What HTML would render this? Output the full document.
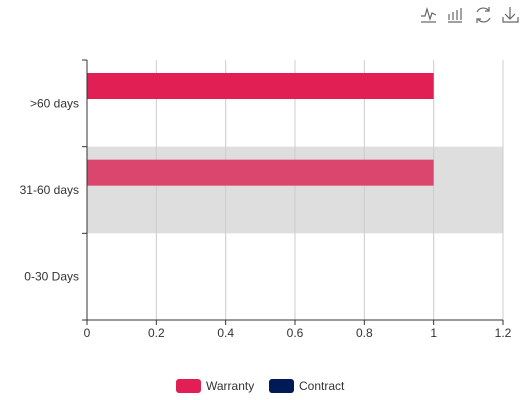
<!DOCTYPE html>
<html><head><meta charset="utf-8"><style>
body{margin:0;background:#fff;}
svg{display:block;font-family:"Liberation Sans",sans-serif;}
</style></head><body>
<svg id="chart" width="524" height="400">
<g fill="none" stroke="#666" stroke-width="1.2">
 <g><path d="M421 16 L425 16 L427 9 L430 19 L432 13 L436 15"/><path d="M421 22 L436 22"/></g>
 <g><path d="M449 14v6M453 12v8M457 10v10M461 8v12M448 22H462"/></g>
 <g><path d="M477 12 A7 7 0 0 1 489 11 M490 18 A7 7 0 0 1 478 19"/><path d="M489 7v4h-4M477 23v-4h4"/></g>
 <g><path d="M510 7v12M505 14l5 5 5-5M503 17v5h15v-5"/></g>
</g>
<g id="plot"></g>
<g font-size="12" fill="#333">
 <g><rect x="176" y="379" width="25" height="14" rx="3" fill="#e21f55"/><text x="206" y="390">Warranty</text></g>
 <g><rect x="269" y="379" width="25" height="14" rx="3" fill="#001a57"/><text x="299" y="390">Contract</text></g>
</g>
</svg>
<script>
const categories=['0-30 Days','31-60 days','>60 days'];
const warranty=[0,1,1];
const contract=[0,0,0];
const ticks=[0,0.2,0.4,0.6,0.8,1,1.2];
const X0=87,X1=503,Y0=320,Y1=60,NS='http://www.w3.org/2000/svg';
const xs=v=>X0+(v/1.2)*(X1-X0);
const band=(Y0-Y1)/categories.length;
const yb=i=>Y0-(i+1)*band;
const g=document.getElementById('plot');
function el(t,a,p){const e=document.createElementNS(NS,t);for(const k in a)e.setAttribute(k,a[k]);(p||g).appendChild(e);return e;}
// hover shadow on 31-60
let sh=el('rect',{x:X0,y:yb(1),width:X1-X0,height:band,fill:'#dedede'});


ticks.forEach(t=>{
 if(t>0){let l=el('line',{x1:xs(t),x2:xs(t),y1:Y1,y2:Y0,stroke:'#ccc'});
 
 }
 let k=el('line',{x1:xs(t),x2:xs(t),y1:Y0,y2:Y0+5,stroke:'#333'});
 
 
 let tx=el('text',{x:xs(t),y:Y0+17,'text-anchor':'middle','font-size':12,fill:'#333'});
 tx.textContent=t;
 
 
});
categories.forEach((c,i)=>{
 const bh=26,off=13;
 if(warranty[i]>0){let r=el('rect',{x:X0,y:yb(i)+off,width:xs(warranty[i])-X0,height:bh,fill:i==1?'#db466f':'#e21f55'});
 
 }
 if(contract[i]>0){let r=el('rect',{x:X0,y:yb(i)+off+bh+6,width:xs(contract[i])-X0,height:bh,fill:'#001a57'});
 
 }
 let tx=el('text',{x:X0-8,y:yb(i)+band/2+4,'text-anchor':'end','font-size':12,fill:'#333'});
 tx.textContent=c;
 
 
});
for(let i=0;i<=categories.length;i++){let k=el('line',{x1:X0-5,x2:X0,y1:Y1+i*band,y2:Y1+i*band,stroke:'#333'});

}
let ya=el('line',{x1:X0,x2:X0,y1:Y1,y2:Y0,stroke:'#333'});


let xa=el('line',{x1:X0,x2:X1,y1:Y0,y2:Y0,stroke:'#333'});


</script>
</body></html>
